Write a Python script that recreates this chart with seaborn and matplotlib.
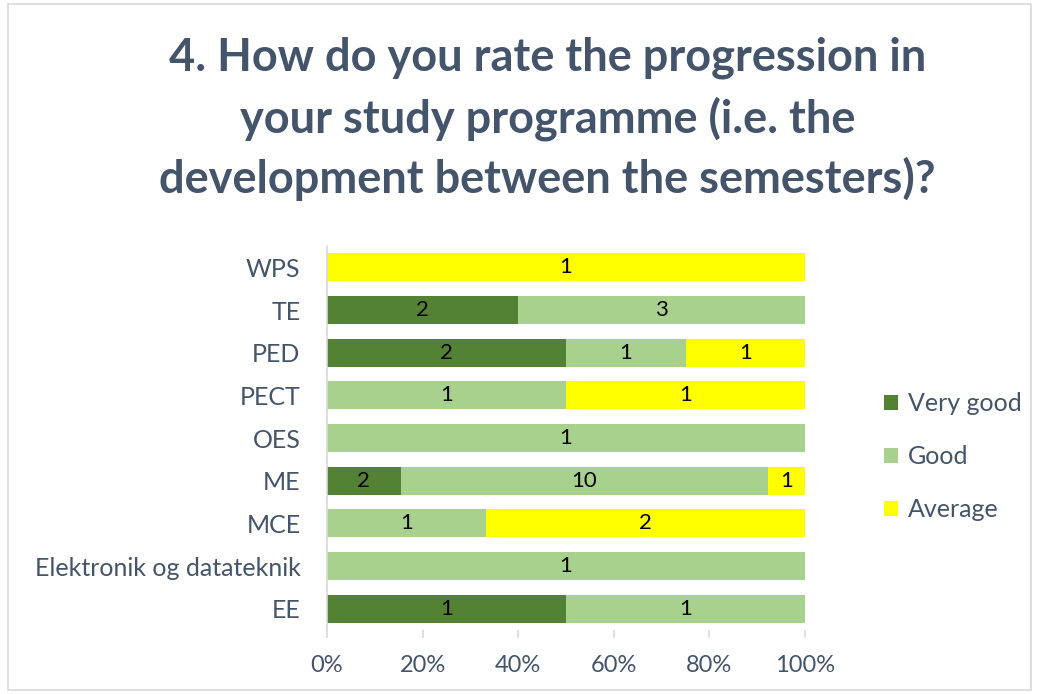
import matplotlib
matplotlib.use("Agg")
import matplotlib.pyplot as plt
import numpy as np
import pandas as pd
import seaborn as sns
from matplotlib.patches import Patch, Rectangle
from matplotlib.ticker import PercentFormatter


PROGRAMMES = ["WPS", "TE", "PED", "PECT", "OES", "ME", "MCE", "Elektronik og datateknik", "EE"]
VERY_GOOD = [0, 2, 2, 0, 0, 2, 0, 0, 1]
GOOD = [0, 3, 1, 1, 1, 10, 1, 1, 1]
AVERAGE = [1, 0, 1, 1, 0, 1, 2, 0, 0]

SERIES = ["Very good", "Good", "Average"]
COLORS = ["#548235", "#A9D18E", "#FFFF00"]
TEXT_COLOR = "#44546A"

TITLE = "4. How do you rate the progression in\nyour study programme (i.e. the\ndevelopment between the semesters)?"


def build_table() -> pd.DataFrame:
    df = pd.DataFrame({"programme": PROGRAMMES, "Very good": VERY_GOOD, "Good": GOOD, "Average": AVERAGE})
    total = df[SERIES].sum(axis=1)
    for s in SERIES:
        df[s + "_pct"] = df[s] / total * 100
    df["cum1"] = df["Very good_pct"]
    df["cum2"] = df["cum1"] + df["Good_pct"]
    df["cum3"] = df["cum2"] + df["Average_pct"]
    return df


def main() -> None:
    sns.set_theme(style="white")
    plt.rcParams["font.family"] = ["Lato", "DejaVu Sans"]

    df = build_table()

    fig = plt.figure(figsize=(10.39, 6.94), dpi=100)
    ax = fig.add_axes([0.3147, 0.0922, 0.4601, 0.5533])

    # overlay cumulative bars, widest first, to get the stacked look
    for col, color in zip(["cum3", "cum2", "cum1"], COLORS[::-1]):
        sns.barplot(data=df, x=col, y="programme", order=PROGRAMMES, color=color,
                    width=0.66, linewidth=0, saturation=1, orient="h", ax=ax)

    # segment labels
    starts = [np.zeros(len(df)), df["cum1"].to_numpy(), df["cum2"].to_numpy()]
    for s, left in zip(SERIES, starts):
        for i, (count, pct) in enumerate(zip(df[s], df[s + "_pct"])):
            if count > 0:
                ax.text(left[i] + pct / 2, i, str(count), ha="center", va="center",
                        fontsize=16, color="black")

    ax.set_xlim(0, 100)
    ax.set_ylim(len(PROGRAMMES) - 0.5, -0.5)
    ax.set_xticks(np.arange(0, 101, 20))
    ax.xaxis.set_major_formatter(PercentFormatter(decimals=0))
    ax.set_xlabel("")
    ax.set_ylabel("")
    ax.grid(False)
    for side in ["top", "right", "bottom"]:
        ax.spines[side].set_visible(False)
    ax.spines["left"].set_color("#D9D9D9")
    ax.spines["left"].set_linewidth(1.2)
    ax.tick_params(axis="x", length=6, width=1.2, color="#D9D9D9", labelsize=17,
                   labelcolor=TEXT_COLOR, pad=12, bottom=True)
    ax.tick_params(axis="y", length=0, labelsize=18, labelcolor=TEXT_COLOR, pad=19)

    handles = [Patch(facecolor=c, edgecolor="none", label=s) for s, c in zip(SERIES, COLORS)]
    fig.legend(handles=handles, loc="upper left", bbox_to_anchor=(0.841, 0.449),
               frameon=False, fontsize=18, labelcolor=TEXT_COLOR, handlelength=0.55,
               handleheight=0.55, handletextpad=0.4, labelspacing=1.2, borderaxespad=0)

    fig.text(0.527, 0.947, TITLE, ha="center", va="top", fontsize=32.5, fontweight="bold",
             color=TEXT_COLOR, linespacing=1.46)

    fig.patches.append(Rectangle((0.008, 0.006), 0.984, 0.988, transform=fig.transFigure,
                                 fill=False, edgecolor="#D9D9D9", linewidth=1.2))

    fig.savefig("out.png", dpi=100)


if __name__ == "__main__":
    main()
